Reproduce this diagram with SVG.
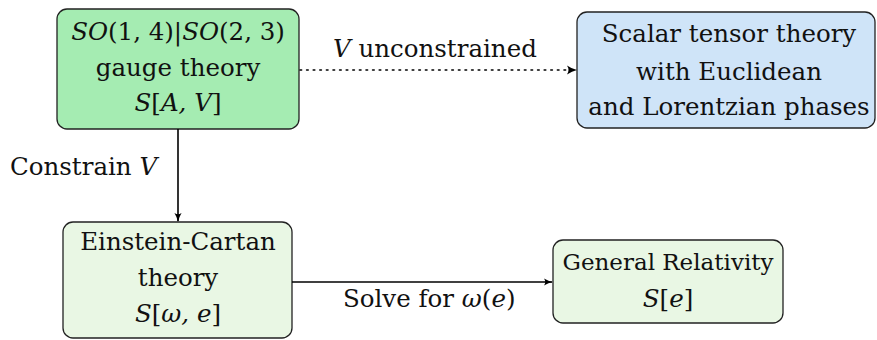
<svg xmlns="http://www.w3.org/2000/svg" width="877" height="340" viewBox="0 0 877 340">
<defs>
<style>
.box{stroke:#222;stroke-width:1.3}
text{font-family:"DejaVu Serif","Liberation Serif",serif;font-size:24.5px;fill:#111}
.t{text-anchor:middle}
.i{font-style:italic}
.c{fill:none;stroke:#000;stroke-width:1.6}
</style>
<marker id="ah" viewBox="0 0 10 10" refX="9" refY="5" markerWidth="9" markerHeight="9" orient="auto" markerUnits="userSpaceOnUse">
<path d="M0,1 Q5,4 10,5 Q5,6 0,9 Q3,5 0,1Z" fill="#000"/>
</marker>
</defs>
<rect width="877" height="340" fill="#fff"/>
<g id="gauge">
<rect class="box" x="57" y="9" width="242" height="120" rx="10" fill="#a5ecb2"/>
<text class="t" x="178" y="40"><tspan class="i">SO</tspan>(1, 4)|<tspan class="i">SO</tspan>(2, 3)</text>
<text class="t" x="178" y="76">gauge theory</text>
<text class="t" x="178" y="111"><tspan class="i">S</tspan>[<tspan class="i">A, V</tspan>]</text>
</g>
<g id="scalar">
<rect class="box" x="577" y="12" width="298" height="116" rx="10" fill="#cfe4f8"/>
<text class="t" x="729" y="42">Scalar tensor theory</text>
<text class="t" x="729" y="80">with Euclidean</text>
<text class="t" x="729" y="115">and Lorentzian phases</text>
</g>
<g id="ec">
<rect class="box" x="63" y="222" width="229" height="116" rx="10" fill="#e9f7e4"/>
<text class="t" x="178" y="250">Einstein-Cartan</text>
<text class="t" x="178" y="286">theory</text>
<text class="t" x="178" y="322"><tspan class="i">S</tspan>[<tspan class="i">ω, e</tspan>]</text>
</g>
<g id="gr">
<rect class="box" x="553" y="240" width="230" height="83" rx="10" fill="#e9f7e4"/>
<text class="t" x="668" y="270" style="font-size:23px">General Relativity</text>
<text class="t" x="668" y="307"><tspan class="i">S</tspan>[<tspan class="i">e</tspan>]</text>
</g>
<g id="connectors">
<line class="c" x1="300" y1="70" x2="576" y2="70" stroke-dasharray="1.6 5" stroke-linecap="round"/>
<path d="M567,65.5 Q572,69 577,70 Q572,71 567,74.5 Q570,70 567,65.5Z" fill="#000"/>
<line class="c" x1="178" y1="129" x2="178" y2="221" marker-end="url(#ah)"/>
<line class="c" x1="292" y1="282" x2="552" y2="282" marker-end="url(#ah)"/>
<text x="333" y="57"><tspan class="i">V</tspan> unconstrained</text>
<text x="10" y="175">Constrain <tspan class="i">V</tspan></text>
<text x="343" y="307">Solve for <tspan class="i">ω</tspan>(<tspan class="i">e</tspan>)</text>
</g>
</svg>
